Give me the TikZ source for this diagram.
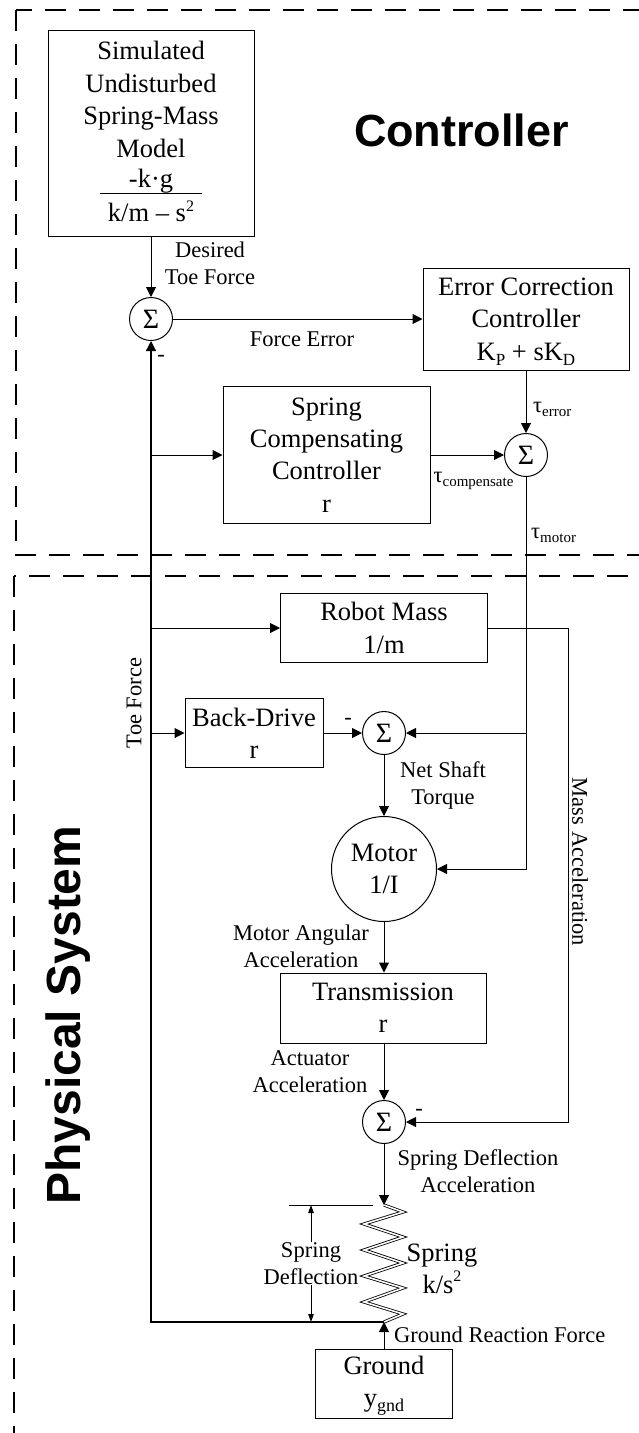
\documentclass[tikz,border=0pt]{standalone}
\usepackage{fontspec}
\setmainfont{Liberation Serif}
\newfontfamily\arialf{Liberation Sans}
\usetikzlibrary{arrows.meta,calc}
\newcommand\boxfont{\fontsize{26.5}{32.4}\selectfont}
\newcommand\labfont{\fontsize{22.5}{27}\selectfont}
\newcommand\subsc[2][15]{\smash{\raisebox{-0.2em}{\fontsize{#1}{#1}\selectfont #2}}}
\newcommand\supsc[1]{\smash{\raisebox{0.35em}{\fontsize{16}{16}\selectfont #1}}}
\begin{document}
\begin{tikzpicture}[x=1pt,y=-1pt,
  box/.style={draw,line width=1pt,font=\boxfont,align=center,inner sep=0pt},
  txt/.style={font=\boxfont,align=center,inner sep=0pt},
  sig/.style={circle,draw,line width=1pt,minimum size=43pt,inner sep=0pt,font=\fontsize{28}{28}\selectfont},
  lab/.style={font=\labfont,align=center,inner sep=0pt},
  conn/.style={line width=1pt},
  arr/.style={conn,-{Triangle[length=10pt,width=10pt]}},
  smallarr/.style={conn,-{Triangle[length=8pt,width=5.5pt]}},
  zone/.style={line width=2.5pt,dash pattern=on 21pt off 13pt},
  title/.style={font=\arialf\bfseries\fontsize{45}{54}\selectfont,inner sep=0pt}]
\useasboundingbox (0,0) rectangle (639,1433);
\begin{scope}
\clip (0,0) rectangle (639,1433);
\draw[zone] (16,10) rectangle (720,555);
\draw[zone] (14,576) rectangle (720,1520);
\end{scope}

% blocks
\node[box,minimum width=206pt,minimum height=206pt] (sim) at (151,133) {};
\node[txt] (simtxt) at (151,99.5) {Simulated\\Undisturbed\\Spring-Mass\\Model};
\node[txt,anchor=base] (num) at (151,187) {-k·g};
\node[txt,anchor=base] (den) at (151,221) {k/m – s\supsc{2}};
\draw[line width=1pt] ($(den.base west)+(-7.5,-28)$) -- ($(den.base east)+(7.5,-28)$);
\node[title] (lctrl) at (461.5,130) {Controller};
\node[title,font=\arialf\bfseries\fontsize{48}{56}\selectfont,rotate=90] (lphys) at (68,1015) {Physical System};

\node[sig] (s1) at (151,319) {Σ};
\node[box,minimum width=206pt,minimum height=102pt] (ecc) at (526,319) {Error Correction\\Controller\\K\subsc[17]{P} + sK\subsc[17]{D}};
\node[sig] (s2) at (526,455) {Σ};
\node[box,minimum width=207pt,minimum height=137pt] (scc) at (326.5,455) {Spring\\Compensating\\Controller\\r};
\node[box,minimum width=207pt,minimum height=69pt] (rm) at (384,628) {Robot Mass\\1/m};
\node[box,minimum width=138pt,minimum height=69pt] (bd) at (254,733) {Back-Drive\\r};
\node[sig] (s3) at (384,733) {Σ};
\node[circle,draw,line width=1pt,minimum size=105pt,inner sep=0pt,font=\boxfont,align=center] (motor) at (384,869) {Motor\\1/I};
\node[box,minimum width=206pt,minimum height=70pt] (tr) at (383,1008) {Transmission\\r};
\node[sig] (s4) at (384,1122) {Σ};
\coordinate (sptop) at (384,1205);
\coordinate (spbot) at (384,1322);
\node[box,minimum width=137pt,minimum height=69pt] (gnd) at (384,1384) {Ground\\y\subsc[18]{gnd}};
\coordinate (corner) at (151,1322);
\coordinate (mr) at (568,628);

% spring
\draw[line width=0.8pt,double,double distance=1.6pt,line join=miter] (sptop) -- ++(19,7) -- ++(-39,12) -- ++(39,13) -- ++(-39,13) -- ++(39,13) -- ++(-39,13) -- ++(39,12) -- ++(-39,14) -- ++(39,12) -- (spbot);

% connectors
\draw[arr] (sim.south) -- (s1.north);
\draw[arr] (s1.east) -- (ecc.west);
\draw[arr] (ecc.south) -- (s2.north);
\draw[arr] (scc.east) -- (s2.west);
\draw[arr,line width=1.3pt] (spbot) -- (corner) -- (s1.south);
\draw[arr] (scc.west -| corner) -- (scc.west);
\draw[arr] (rm.west -| corner) -- (rm.west);
\draw[arr] (bd.west -| corner) -- (bd.west);
\draw[arr] (bd.east) -- (s3.west);
\draw[arr] (s2.south) -- (s2.south |- motor.east) -- (motor.east);
\draw[arr] (s2.south |- s3.east) -- (s3.east);
\draw[arr] (rm.east) -- (mr) -- (mr |- s4.east) -- (s4.east);
\draw[arr] (s3.south) -- (motor.north);
\draw[arr] (motor.south) -- (motor.south |- tr.north);
\draw[arr] (tr.south -| s4.north) -- (s4.north);
\draw[arr] (s4.south) -- (sptop);
\draw[arr] (gnd.north) -- (spbot);

% spring deflection dimension
\coordinate (dtl) at (289,1205);
\coordinate (dtr) at (373,1205);
\draw[conn] (dtl) -- (dtr);
\node[lab] (sdef) at (311,1263.5) {Spring\\Deflection};
\draw[smallarr] (sdef.north) -- (sdef.north |- dtl);
\draw[smallarr] (sdef.south) -- (sdef.south |- corner);

% labels
\node[lab] (ldes) at (210,263.5) {Desired\\Toe Force};
\node[lab] (lfe) at (302,339) {Force Error};
\node[lab] (lm1) at (161,358) {-};
\node[lab,anchor=west] (lte) at (533,407) {τ\subsc{error}};
\node[lab] (ltc) at (473.5,477) {τ\subsc{compensate}};
\node[lab,anchor=west] (ltm) at (531,533) {τ\subsc{motor}};
\node[lab,rotate=90] (ltoe) at (134,703) {Toe Force};
\node[lab] (lm2) at (348,721) {-};
\node[lab] (lnst) at (443,785) {Net Shaft\\Torque};
\node[lab,rotate=-90] (lma) at (580,862) {Mass Acceleration};
\node[lab] (lmaa) at (301,946) {Motor Angular\\Acceleration};
\node[lab] (laa) at (310,1072) {Actuator\\Acceleration};
\node[lab] (lm3) at (419,1112) {-};
\node[lab] (lsda) at (478,1171.5) {Spring Deflection\\Acceleration};
\node[txt] (lspr) at (442,1269) {Spring\\k/s\smash{\raisebox{0.45em}{\fontsize{16}{16}\selectfont 2}}};
\node[lab,anchor=west] (lgrf) at (394,1335) {Ground Reaction Force};
\end{tikzpicture}
\end{document}
